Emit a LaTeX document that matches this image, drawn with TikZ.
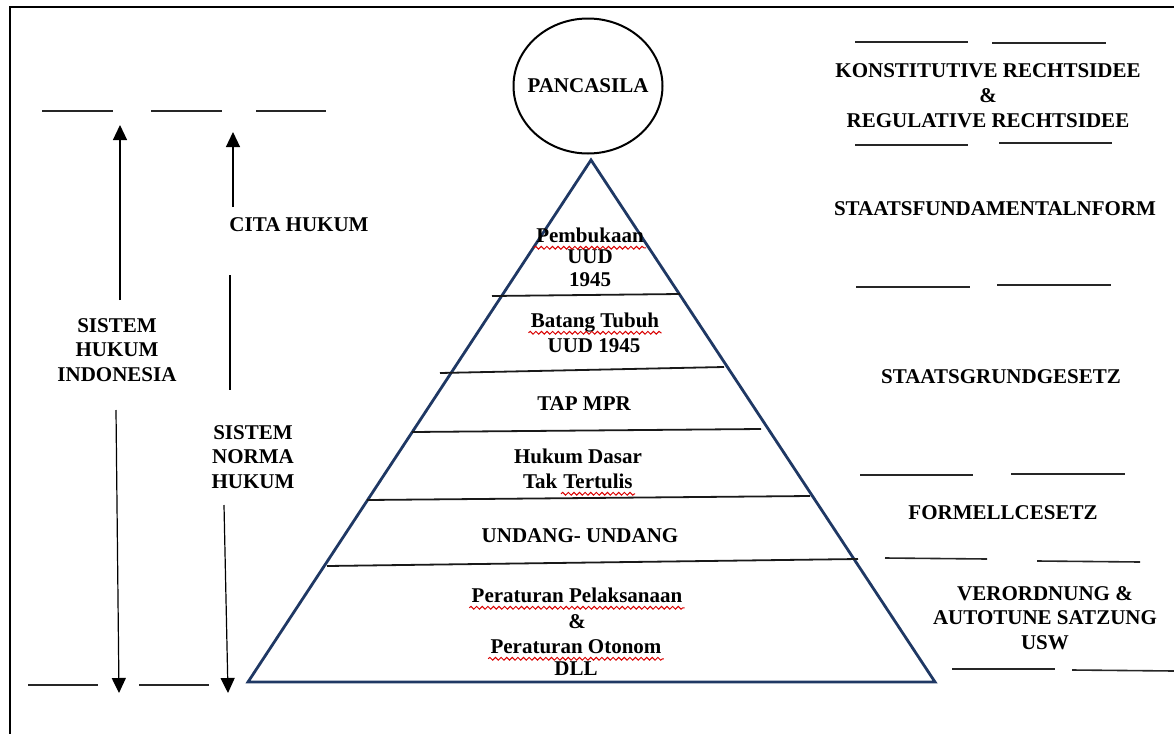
\documentclass[tikz,border=0pt]{standalone}
\usepackage{fontspec}
\setmainfont{Liberation Serif}
\usetikzlibrary{arrows.meta,shapes.geometric,positioning,decorations.pathmorphing}
\definecolor{pyrblue}{RGB}{31,56,100}
\tikzset{
  lbl/.style={font=\fontsize{10.5}{12.4}\selectfont\bfseries, align=center, inner sep=1pt},
  word/.style={font=\fontsize{10.5}{12.4}\selectfont\bfseries, inner sep=1pt, text height=1.55ex, text depth=.25ex},
  dashln/.style={line width=0.8pt, black!85},
  layer/.style={line width=0.9pt, black!90},
  pyr/.style={draw=pyrblue, line width=1.4pt, line join=miter},
  updown/.style={line width=0.6pt, -{Triangle[width=7pt,length=7.5pt]}},
  squig/.style={red!85!black, line width=0.5pt, decorate, decoration={snake, amplitude=0.7pt, segment length=2.8pt}}
}

\begin{document}
\begin{tikzpicture}[x=0.5pt,y=-0.5pt]
			%%%%% START %%%%%
			\useasboundingbox (0,0) rectangle (1174,734);
			
			\draw[line width=1.3pt] (10,734) -- (10,7) -- (1174,7);
			
			% puncak
			\node[draw, ellipse, line width=1pt, minimum width=74.5pt, minimum height=67.5pt, inner sep=0pt] (panc) at (588,86) {};
			\node[word] (pancTxt) at (588,87) {PANCASILA};
			
			% piramida
			\draw[pyr] (591,160) -- (935,682) -- (248,682) -- cycle;
			\draw[layer] (492,296) -- (680,294);
			\draw[layer] (440,373) -- (724,367);
			\draw[layer] (412,432) -- (761,429);
			\draw[layer] (367,500) -- (810,496);
			\draw[layer] (327,566) -- (858,559);
			
			\node[word] (pemb) at (590,237) {Pembukaan};
			\node[word] (uudA) at (590,258) {UUD};
			\node[word] (tahunA) at (590,281) {1945};
			
			\node[word] (batang) at (595,322) {Batang Tubuh};
			\node[word] (uudB) at (594,347) {UUD 1945};
			
			\node[word] (tap) at (584,405) {TAP MPR};
			
			\node[word] (dasar) at (578,458) {Hukum Dasar};
			\node[word] (tert) at (598,483) {Tertulis};
			\node[word, left=0.6pt of tert] (tak) {Tak};
			
			\node[word] (uu) at (580,537) {UNDANG- UNDANG};
			
			\node[word] (pelak) at (577,597) {Peraturan Pelaksanaan};
			\node[word] (dan) at (577,623) {\&};
			\node[word] (oton) at (576,648) {Peraturan Otonom};
			\node[word] (dll) at (576,670) {DLL};
			
			\draw[squig] ([yshift=-2.4pt]pemb.base west) -- ([yshift=-2.4pt]pemb.base east);
			\draw[squig] ([yshift=-2.4pt]batang.base west) -- ([yshift=-2.4pt]batang.base east);
			\draw[squig] ([yshift=-2.4pt]tert.base west) -- ([yshift=-2.4pt]tert.base east);
			\draw[squig] ([yshift=-2.4pt]pelak.base west) -- ([yshift=-2.4pt]pelak.base east);
			\draw[squig] ([yshift=-2.4pt]oton.base west) -- ([yshift=-2.4pt]oton.base east);
			
			% sisi kiri
			\draw[dashln] (42,111) -- (113,111);
			\draw[dashln] (151,111) -- (222,111);
			\draw[dashln] (256,111) -- (326,111);
			\draw[dashln] (28,685) -- (98,685);
			\draw[dashln] (139,685) -- (209,685);
			
			\node[lbl] (cita) at (299,225) {CITA HUKUM};
			\node[lbl] (sysHuk) at (117,350) {SISTEM\\HUKUM\\INDONESIA};
			\node[lbl] (sysNorma) at (253,457) {SISTEM\\NORMA\\HUKUM};
			
			\coordinate (hukTop) at (120,125);
			\coordinate (hukUp) at (120,300);
			\coordinate (hukDown) at (116,410);
			\coordinate (hukBot) at (119,693);
			\coordinate (citaTop) at (233,132);
			\coordinate (citaLow) at (233,207);
			\coordinate (normaUp) at (230,275);
			\coordinate (normaMid) at (230,390);
			\coordinate (normaDown) at (224,505);
			\coordinate (normaBot) at (228,693);
			
			\draw[updown] (hukUp) -- (hukTop);
			\draw[updown] (hukDown) -- (hukBot);
			\draw[updown] (citaLow) -- (citaTop);
			\draw[line width=0.6pt] (normaUp) -- (normaMid);
			\draw[updown] (normaDown) -- (normaBot);
			
			% sisi kanan
			\draw[dashln] (855,42) -- (968,42);
			\draw[dashln] (992,43) -- (1106,43);
			\node[lbl] (rechts) at (988,96) {KONSTITUTIVE RECHTSIDEE\\\&\\REGULATIVE RECHTSIDEE};
			\draw[dashln] (855,145) -- (968,145);
			\draw[dashln] (999,143) -- (1112,143);
			
			\node[lbl] (fund) at (995,209) {STAATSFUNDAMENTALNFORM};
			\draw[dashln] (856,287) -- (970,287);
			\draw[dashln] (997,285) -- (1111,285);
			
			\node[lbl] (grund) at (1001,377) {STAATSGRUNDGESETZ};
			\draw[dashln] (860,475) -- (973,475);
			\draw[dashln] (1011,474) -- (1125,474);
			
			\node[lbl] (formell) at (1003,513) {FORMELLCESETZ};
			\draw[dashln] (885,558) -- (987,559);
			\draw[dashln] (1037,561) -- (1140,562);
			
			\node[lbl] (verord) at (1045,618) {VERORDNUNG \&\\AUTOTUNE SATZUNG\\USW};
			\draw[dashln] (952,669) -- (1055,669);
			\draw[dashln] (1072,670) -- (1174,671);
			
			%%%%% END %%%%%
		\end{tikzpicture}
\end{document}
